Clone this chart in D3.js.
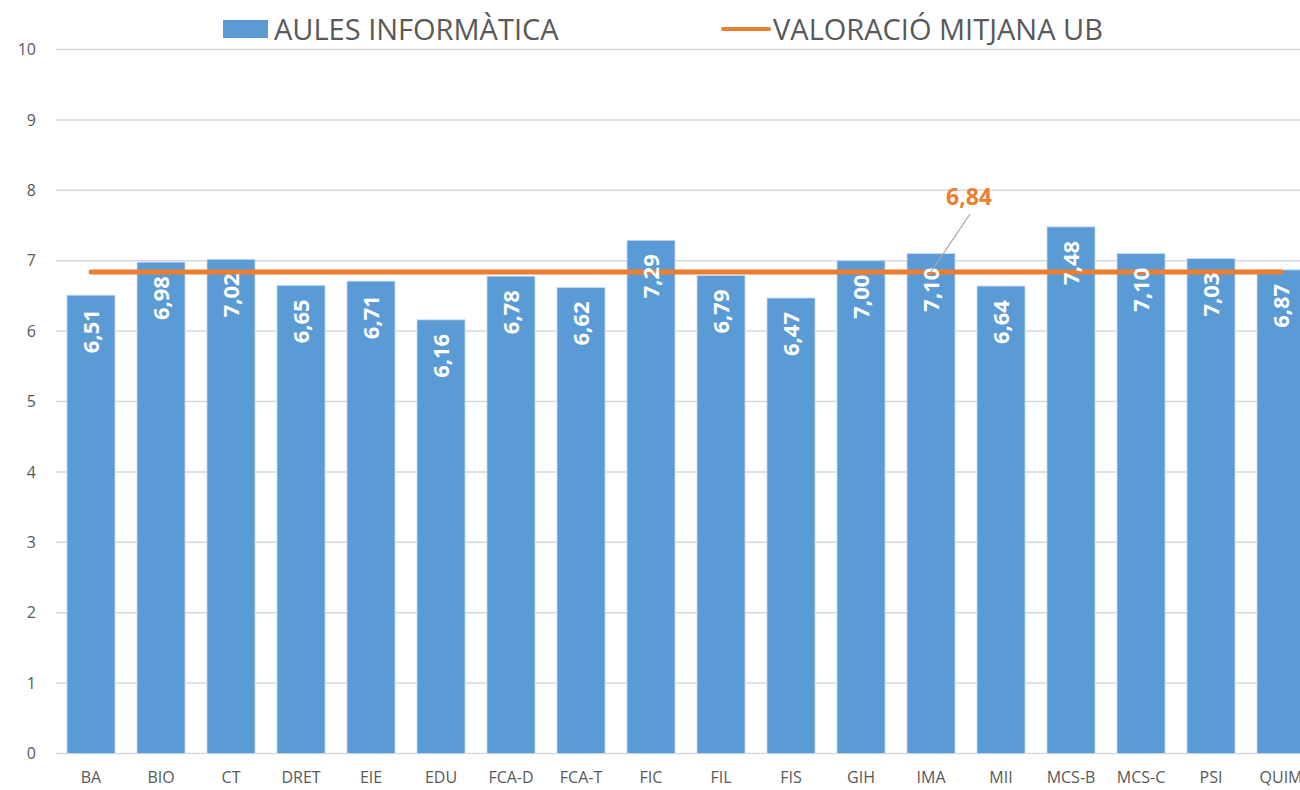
<!DOCTYPE html>
<html>
<head>
<meta charset="utf-8">
<script src="https://cdn.jsdelivr.net/npm/d3@7"></script>
<style>
  body { margin: 0; background: #fff; }
  svg { display: block; font-family: "Open Sans", sans-serif; }
</style>
</head>
<body>
<svg id="chart" width="1300" height="790"></svg>
<script>
// Data
var categories = ["BA", "BIO", "CT", "DRET", "EIE", "EDU", "FCA-D", "FCA-T", "FIC", "FIL",
                  "FIS", "GIH", "IMA", "MII", "MCS-B", "MCS-C", "PSI", "QUIM"];
var aules = [6.51, 6.98, 7.02, 6.65, 6.71, 6.16, 6.78, 6.62, 7.29, 6.79,
             6.47, 7.00, 7.10, 6.64, 7.48, 7.10, 7.03, 6.87];
var mitjana = [6.84, 6.84, 6.84, 6.84, 6.84, 6.84, 6.84, 6.84, 6.84, 6.84,
               6.84, 6.84, 6.84, 6.84, 6.84, 6.84, 6.84, 6.84];
var yTicks = [0, 1, 2, 3, 4, 5, 6, 7, 8, 9, 10];
var seriesNames = ["AULES INFORMÀTICA", "VALORACIÓ MITJANA UB"];

var blue = "#5B9BD5", orange = "#ED7D31", grey = "#595959";

var svg = d3.select("#chart");
var fmt = function(v) { return v.toFixed(2).replace(".", ","); };

// Scales
var x = d3.scaleBand()
    .domain(categories)
    .range([56, 1316])
    .paddingInner(0.314)
    .paddingOuter(0.157);

var y = d3.scaleLinear()
    .domain([0, 10])
    .range([753.5, 49.5]);

// Gridlines
svg.append("g")
    .selectAll("line")
    .data(yTicks)
  .enter().append("line")
    .attr("x1", 56)
    .attr("x2", 1316)
    .attr("y1", function(d) { return y(d); })
    .attr("y2", function(d) { return y(d); })
    .attr("stroke", "#d9d9d9")
    .attr("stroke-width", 1.5);

// Y axis labels
var yAxis = d3.axisLeft(y).tickValues(yTicks).tickSize(0).tickPadding(0);
var gy = svg.append("g")
    .attr("transform", "translate(36,0)")
    .call(yAxis);
gy.select(".domain").remove();
gy.selectAll("text")
    .attr("fill", grey)
    .style("font-size", "16px")
    .style("font-family", "'Open Sans', sans-serif");

// X axis labels
var xAxis = d3.axisBottom(x).tickSize(0).tickPadding(0);
var gx = svg.append("g")
    .attr("transform", "translate(0,772)")
    .call(xAxis);
gx.select(".domain").remove();
gx.selectAll("text")
    .attr("fill", grey)
    .style("font-size", "16px")
    .style("font-family", "'Open Sans', sans-serif");

// Bars
svg.append("g")
    .selectAll("rect")
    .data(aules)
  .enter().append("rect")
    .attr("x", function(d, i) { return x(categories[i]); })
    .attr("y", function(d) { return y(d); })
    .attr("width", x.bandwidth())
    .attr("height", function(d) { return y(0) - y(d); })
    .attr("fill", blue)
    .attr("stroke", "#c9dcf0")
    .attr("stroke-width", 0.8);

// Mean line
var line = d3.line()
    .x(function(d, i) { return x(categories[i]) + x.bandwidth() / 2; })
    .y(function(d) { return y(d); });

svg.append("path")
    .attr("d", line(mitjana))
    .attr("fill", "none")
    .attr("stroke", orange)
    .attr("stroke-width", 5)
    .attr("stroke-linecap", "round");

// Bar value labels (rotated)
svg.append("g")
    .selectAll("text")
    .data(aules)
  .enter().append("text")
    .attr("transform", function(d, i) {
        var cx = x(categories[i]) + x.bandwidth() / 2 + 8;
        return "translate(" + cx + "," + (y(d) + 14) + ") rotate(-90)";
    })
    .attr("text-anchor", "end")
    .attr("fill", "#fff")
    .style("font-size", "22px")
    .style("font-weight", "bold")
    .text(function(d) { return fmt(d); });

// Mean label with leader line
var iLab = categories.indexOf("IMA");
var lx = x(categories[iLab]) + x.bandwidth() / 2;
svg.append("line")
    .attr("x1", lx)
    .attr("y1", y(mitjana[iLab]))
    .attr("x2", lx + 39)
    .attr("y2", y(mitjana[iLab]) - 58)
    .attr("stroke", "#a6a6a6")
    .attr("stroke-width", 1.2);
svg.append("text")
    .attr("x", lx + 38)
    .attr("y", y(mitjana[iLab]) - 67)
    .attr("text-anchor", "middle")
    .attr("fill", orange)
    .style("font-size", "23px")
    .style("font-weight", "bold")
    .text(fmt(mitjana[iLab]));

// Legend
var legend = svg.append("g");
legend.append("rect")
    .attr("x", 223).attr("y", 20)
    .attr("width", 45).attr("height", 18)
    .attr("fill", blue);
legend.append("text")
    .attr("x", 274).attr("y", 40)
    .attr("fill", grey)
    .style("font-size", "29px")
    .text(seriesNames[0]);
legend.append("line")
    .attr("x1", 723).attr("x2", 769)
    .attr("y1", 29).attr("y2", 29)
    .attr("stroke", orange)
    .attr("stroke-width", 4)
    .attr("stroke-linecap", "round");
legend.append("text")
    .attr("x", 773).attr("y", 40)
    .attr("fill", grey)
    .style("font-size", "29px")
    .text(seriesNames[1]);
</script>
</body>
</html>
